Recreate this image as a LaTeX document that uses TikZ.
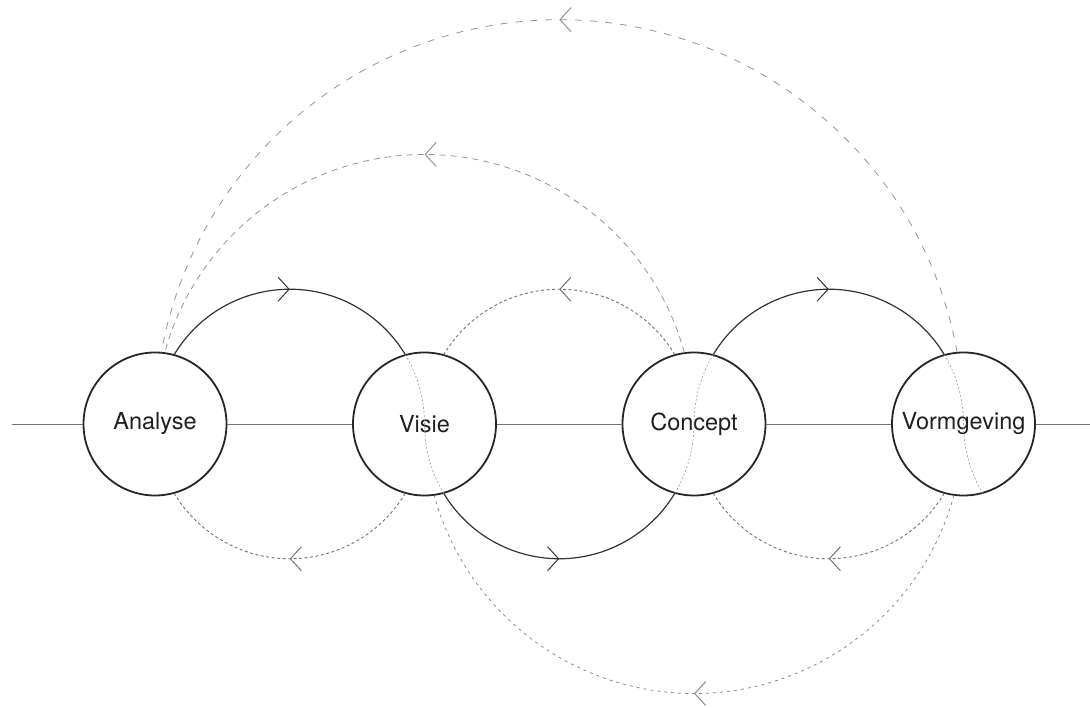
\documentclass[tikz,border=0pt]{standalone}
\usepackage{fontspec}
\setmainfont{TeX Gyre Heros}
\usetikzlibrary{arrows.meta,decorations.markings,calc}
\begin{document}
\begin{tikzpicture}[x=1pt,y=1pt,
  stage/.style={circle, draw=black!85, line width=1.8pt, minimum size=143pt, inner sep=0pt,
    font=\fontsize{23.5}{27}\selectfont, text=black!88},
  midarrow/.style={postaction={decorate}, decoration={markings,
    mark=at position 0.5 with {\arrow{Straight Barb[length=11pt,width=24pt,line width=1pt]}}}},
  axisline/.style={draw=black!55, line width=0.9pt},
  forward/.style={draw=black!80, line width=1.2pt, midarrow},
  backsmall/.style={draw=black!55, line width=0.9pt, dash pattern=on 3pt off 2.5pt, midarrow},
  backmid/.style={draw=black!42, line width=0.8pt, dash pattern=on 6pt off 5pt, midarrow},
  backbig/.style={draw=black!42, line width=0.8pt, dash pattern=on 7pt off 8pt, midarrow},
  backlow/.style={draw=black!45, line width=0.8pt, dash pattern=on 3pt off 4pt, midarrow},
  through/.style={draw=black!40, line width=0.6pt, dash pattern=on 2pt off 2pt}
]
\useasboundingbox (0,0) rectangle (1090,708);
\def\R{134.75}
\def\D{269.5}
\def\B{404.25}

\node[stage] (A) at (155,284) {Analyse};
\node[stage] (V) at (424.5,284) {Visie};
\node[stage] (C) at (694,284) {Concept};
\node[stage] (G) at (963.5,284) {Vormgeving};

\coordinate (L) at (12,284);
\coordinate (Rt) at (1090,284);
\coordinate (mAV) at ($(A)!0.5!(V)$);
\coordinate (mVC) at ($(V)!0.5!(C)$);
\coordinate (mCG) at ($(C)!0.5!(G)$);
\coordinate (mAG) at ($(A)!0.5!(G)$);

% axis
\draw[axisline] (L) -- (A);
\draw[axisline] (A) -- (V);
\draw[axisline] (V) -- (C);
\draw[axisline] (C) -- (G);
\draw[axisline] (G) -- (Rt);

% forward flow
\draw[forward] ([shift={(149:\R)}]mAV) arc[start angle=149, end angle=31, radius=\R];
\draw[forward] ([shift={(211:\R)}]mVC) arc[start angle=211, end angle=329, radius=\R];
\draw[forward] ([shift={(149:\R)}]mCG) arc[start angle=149, end angle=31, radius=\R];

% flow through the stages
\draw[through] ([shift={(31:\R)}]mAV) arc[start angle=31, end angle=0, radius=\R]
  arc[start angle=180, end angle=211, radius=\R];
\draw[through] ([shift={(329:\R)}]mVC) arc[start angle=329, end angle=360, radius=\R]
  arc[start angle=180, end angle=149, radius=\R];
\draw[through] ([shift={(31:\R)}]mCG) arc[start angle=31, end angle=0, radius=\R]
  arc[start angle=180, end angle=211, radius=\R];

% small feedback loops
\draw[backsmall] ([shift={(31:\R)}]mVC) arc[start angle=31, end angle=149, radius=\R];
\draw[backsmall] ([shift={(329:\R)}]mAV) arc[start angle=329, end angle=211, radius=\R];
\draw[backsmall] ([shift={(329:\R)}]mCG) arc[start angle=329, end angle=211, radius=\R];

% large feedback loops
\draw[backmid] ([shift={(15.35:\D)}]V) arc[start angle=15.35, end angle=164.65, radius=\D];
\draw[backlow] ([shift={(344.65:\D)}]C) arc[start angle=344.65, end angle=195.35, radius=\D];
\draw[backbig] ([shift={(10.22:\B)}]mAG) arc[start angle=10.22, end angle=169.78, radius=\B];
\end{tikzpicture}
\end{document}
